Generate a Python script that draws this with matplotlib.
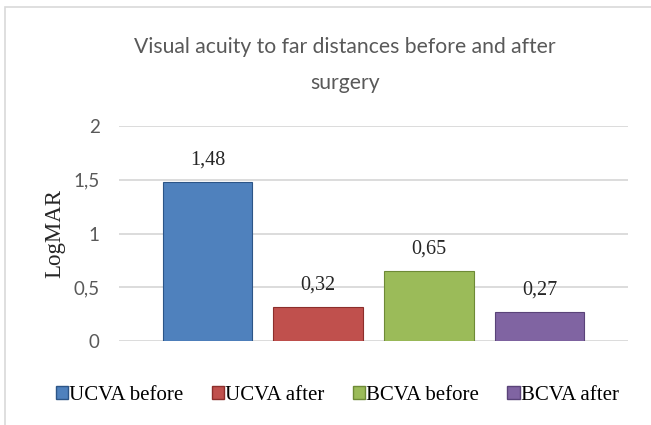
import matplotlib
matplotlib.use("Agg")
import matplotlib.pyplot as plt
from matplotlib.patches import Rectangle

# data
categories = ['UCVA before', 'UCVA after', 'BCVA before', 'BCVA after']
logmar = [1.48, 0.32, 0.65, 0.27]
bar_colors = ['#4F81BD', '#C0504D', '#9BBB59', '#8064A2']
edge_colors = ['#2C5587', '#8C2E2B', '#6E8A36', '#5A4379']
y_ticks = [0, 0.5, 1, 1.5, 2]

fig = plt.figure(figsize=(6.51, 4.25), dpi=100)
ax = fig.add_axes([0.1828, 0.1976, 0.7819, 0.5059])

# light gray chart-area border (only left/top visible in the reference)
fig.patches.append(Rectangle((5 / 651, -0.1), 1.2, 1 - 7 / 425 + 0.1,
                             transform=fig.transFigure, fill=False,
                             edgecolor='#D9D9D9', linewidth=1.2))

x = range(len(categories))
bars = ax.bar(x, logmar, width=0.81, color=bar_colors,
              edgecolor=edge_colors, linewidth=0.8, zorder=3)

for b, v in zip(bars, logmar):
    ax.annotate(f'{v:.2f}'.replace('.', ','),
                (b.get_x() + b.get_width() / 2, v),
                xytext=(0, 9), textcoords='offset points',
                ha='center', va='bottom', fontsize=14.5,
                family='Liberation Serif', color='#262626')

ax.set_xlim(-0.8, 3.8)
ax.set_ylim(0, 2)
ax.set_yticks(y_ticks)
ax.set_yticklabels([f'{t:g}'.replace('.', ',') for t in y_ticks],
                   family='Lato', fontsize=13.5, color='#595959')
ax.set_xticks([])
ax.tick_params(axis='y', length=0, pad=14)
ax.grid(axis='y', color='#D9D9D9', linewidth=1.3, zorder=0)
for s in ax.spines.values():
    s.set_visible(False)

ax.set_ylabel('LogMAR', family='Liberation Serif', fontsize=16.5,
              color='#262626', labelpad=6)

fig.text(0.53, 0.847, 'Visual acuity to far distances before and after\nsurgery',
         ha='center', va='center', family='Lato', fontsize=15.2,
         color='#595959', linespacing=1.95)

handles = [Rectangle((0, 0), 1, 1, facecolor=c, edgecolor=e)
           for c, e in zip(bar_colors, edge_colors)]
fig.legend(handles, categories, loc='center', bbox_to_anchor=(0.518, 0.07),
           ncol=4, frameon=False, handlelength=0.6, handleheight=0.6,
           handletextpad=0.05, columnspacing=1.35,
           prop={'family': 'Liberation Serif', 'size': 15})

fig.savefig('out.png', dpi=100)
